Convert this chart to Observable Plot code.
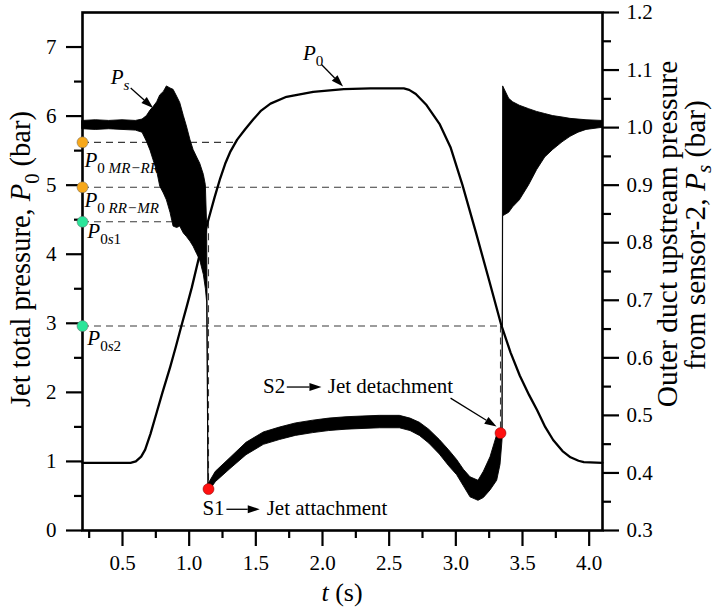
<!DOCTYPE html>
<html>
<head>
<meta charset="utf-8">
<script src="https://cdn.jsdelivr.net/npm/d3@7"></script>
<script src="https://cdn.jsdelivr.net/npm/@observablehq/plot@0.6"></script>
<style>
  body { margin: 0; background: #fff; }
  #chart svg { display: block; }
</style>
</head>
<body>
<div id="chart"></div>
<script>
// ---------------- data ----------------
// Jet total pressure P0 (bar), left axis
const p0Time  = [0.20, 0.40, 0.56, 0.60, 0.64, 0.67, 0.71, 0.758, 0.80, 0.858, 0.90, 0.94, 0.98, 1.02, 1.083, 1.14, 1.19, 1.233, 1.27, 1.31, 1.36, 1.42, 1.48, 1.54, 1.61, 1.73, 1.93, 2.16, 2.36, 2.61, 2.65, 2.70, 2.78, 2.88, 2.96, 3.05, 3.15, 3.25, 3.34, 3.41, 3.48, 3.55, 3.61, 3.67, 3.73, 3.80, 3.86, 3.92, 3.96, 4.10];
const p0Value = [0.98, 0.98, 0.98, 1.00, 1.07, 1.17, 1.40, 1.72, 2.00, 2.37, 2.66, 2.95, 3.23, 3.52, 4.03, 4.47, 4.82, 5.10, 5.31, 5.49, 5.66, 5.81, 5.95, 6.08, 6.18, 6.28, 6.35, 6.39, 6.40, 6.40, 6.38, 6.32, 6.16, 5.88, 5.55, 5.00, 4.32, 3.62, 2.98, 2.58, 2.24, 1.96, 1.74, 1.50, 1.31, 1.15, 1.06, 1.01, 0.99, 0.98];

// Outer duct pressure Ps, noisy signal: upper / lower envelope, in left-axis units
const psTime = [0.20, 0.30, 0.40, 0.50, 0.60, 0.65, 0.683, 0.71, 0.733, 0.76, 0.783, 0.81, 0.833, 0.86, 0.883, 0.91, 0.933, 0.96, 0.983, 1.01, 1.033, 1.06, 1.083, 1.11, 1.125, 1.135, 1.145,
                1.20, 1.31, 1.43, 1.56, 1.68, 1.80, 1.93, 2.05, 2.18, 2.30, 2.43, 2.58, 2.66, 2.73, 2.80, 2.88, 2.95, 3.01, 3.06, 3.11, 3.17, 3.21, 3.26, 3.31, 3.335, 3.35, 3.355,
                3.40, 3.43, 3.48, 3.55, 3.61, 3.67, 3.73, 3.80, 3.86, 3.92, 3.98, 4.10];
const psHigh = [5.93, 5.94, 5.93, 5.94, 5.93, 5.95, 6.00, 6.08, 6.13, 6.20, 6.30, 6.35, 6.43, 6.40, 6.38, 6.28, 6.19, 6.00, 5.85, 5.65, 5.51, 5.40, 5.31, 5.15, 5.00, 4.40, 0.67,
                0.85, 1.05, 1.27, 1.42, 1.49, 1.55, 1.59, 1.62, 1.64, 1.65, 1.66, 1.66, 1.62, 1.56, 1.46, 1.31, 1.16, 1.02, 0.88, 0.77, 0.72, 0.85, 1.06, 1.38, 1.45, 1.47, 6.43,
                6.25, 6.20, 6.15, 6.10, 6.06, 6.03, 6.00, 5.98, 5.96, 5.95, 5.94, 5.93];
const psLow  = [5.81, 5.80, 5.81, 5.80, 5.79, 5.76, 5.63, 5.50, 5.36, 5.20, 4.98, 4.88, 4.78, 4.60, 4.40, 4.38, 4.40, 4.30, 4.25, 4.18, 4.11, 4.00, 3.91, 3.70, 3.50, 3.30, 0.55,
                0.70, 0.89, 1.09, 1.24, 1.31, 1.37, 1.41, 1.44, 1.46, 1.47, 1.48, 1.48, 1.44, 1.37, 1.26, 1.10, 0.93, 0.80, 0.64, 0.48, 0.43, 0.47, 0.58, 0.72, 0.95, 1.30, 4.55,
                4.60, 4.68, 4.78, 5.00, 5.22, 5.40, 5.51, 5.62, 5.70, 5.76, 5.80, 5.83];

// characteristic P0 levels marked on the left axis
const levelName    = ["P0 MR-RR", "P0 RR-MR", "P0s1", "P0s2"];
const levelValue   = [5.62, 4.97, 4.47, 2.96];
const levelEndTime = [1.345, 3.055, 1.145, 3.335];
const levelColor   = ["#F7A81B", "#F7A81B", "#2AE59A", "#2AE59A"];

// events S1 (jet attachment) and S2 (jet detachment)
const eventName  = ["S1", "S2"];
const eventTime  = [1.145, 3.335];
const eventPs    = [0.60, 1.41];   // in left-axis units
const eventLevel = [4.47, 2.96];

// axis ticks
const xMajorTicks = [0.5, 1.0, 1.5, 2.0, 2.5, 3.0, 3.5, 4.0];
const xMinorTicks = [0.25, 0.75, 1.25, 1.75, 2.25, 2.75, 3.25, 3.75];
const yMajorTicks = [0, 1, 2, 3, 4, 5, 6, 7];
const yMinorTicks = [0.5, 1.5, 2.5, 3.5, 4.5, 5.5, 6.5];
const rightMajorTicks = [0.3, 0.4, 0.5, 0.6, 0.7, 0.8, 0.9, 1.0, 1.1, 1.2];
const rightMinorTicks = [0.35, 0.45, 0.55, 0.65, 0.75, 0.85, 0.95, 1.05, 1.15];

// right axis (Ps, bar) = 0.3 + 0.12 * left axis (P0, bar)
const rightToLeft = r => (r - 0.3) / 0.12;
const leftToRight = l => 0.3 + 0.12 * l;

// ---------------- tables ----------------
const p0Rows = p0Time.map((t, i) => ({t, p: p0Value[i]}));
const psRows = psTime.map((t, i) => ({t, hi: psHigh[i], lo: psLow[i]}));
const levelRows = levelName.map((n, i) => ({n, v: levelValue[i], end: levelEndTime[i], c: levelColor[i]}));
const eventRows = eventName.map((n, i) => ({n, t: eventTime[i], ps: eventPs[i], lev: eventLevel[i]}));

const FONT = "'Liberation Serif', 'Times New Roman', serif";

const chart = Plot.plot({
  width: 717,
  height: 608,
  marginLeft: 82,
  marginRight: 115,
  marginTop: 12,
  marginBottom: 78,
  style: {fontFamily: FONT, fontSize: "21px", background: "white", color: "black", overflow: "visible"},
  x: {domain: [0.2, 4.1], label: null},
  y: {domain: [0, 7.5], label: null},
  color: {type: "identity"},
  marks: [
    // dashed guide lines
    Plot.ruleY(levelRows, {y: "v", x1: () => 0.2, x2: "end", stroke: "#3a3a3a", strokeWidth: 1.1, strokeDasharray: "7,5"}),
    Plot.ruleX(eventRows, {x: "t", y1: "lev", y2: "ps", stroke: "#3a3a3a", strokeWidth: 1.1, strokeDasharray: "7,5"}),
    // Ps noisy signal
    Plot.areaY(psRows, {x: "t", y1: "lo", y2: "hi", fill: "black", stroke: "black", strokeWidth: 0.9}),
    // P0
    Plot.line(p0Rows, {x: "t", y: "p", stroke: "black", strokeWidth: 2.3}),
    // frame
    Plot.frame({stroke: "black", strokeWidth: 2.6}),
    // axes
    Plot.axisX(xMajorTicks, {anchor: "bottom", tickSize: 16, tickPadding: 9, strokeWidth: 2.2, tickFormat: d => d.toFixed(1)}),
    Plot.axisX(xMinorTicks, {anchor: "bottom", tickSize: 8, strokeWidth: 2.2, tickFormat: () => ""}),
    Plot.axisY(yMajorTicks, {anchor: "left", tickSize: 16, tickPadding: 10, strokeWidth: 2.2, tickFormat: d => String(d)}),
    Plot.axisY(yMinorTicks, {anchor: "left", tickSize: 8, strokeWidth: 2.2, tickFormat: () => ""}),
    Plot.axisY(rightMajorTicks.map(rightToLeft), {anchor: "right", tickSize: 16, tickPadding: 8, strokeWidth: 2.2, tickFormat: d => leftToRight(d).toFixed(1)}),
    Plot.axisY(rightMinorTicks.map(rightToLeft), {anchor: "right", tickSize: 8, strokeWidth: 2.2, tickFormat: () => ""}),
    // level markers on the axis
    Plot.dot(levelRows, {x: () => 0.2, y: "v", r: 5.5, fill: "c", stroke: "#666", strokeWidth: 0.5}),
    // S1 / S2 markers
    Plot.dot(eventRows, {x: "t", y: "ps", r: 5.5, fill: "#FF1010", stroke: "#7a0000", strokeWidth: 0.5})
  ]
});

document.getElementById("chart").appendChild(chart);

// ---------------- annotations with italics / subscripts ----------------
function scaleFn(name) {
  const s = chart.scale(name);
  if (s && typeof s.apply === "function") return v => s.apply(v);
  return d3.scaleLinear(s.domain, s.range);
}
const X = scaleFn("x"), Y = scaleFn("y");
const svg = d3.select(chart);
const ann = svg.append("g").attr("font-family", FONT).attr("fill", "black").attr("text-anchor", "start");

function rich(g, parts, size, drop = 0.3) {
  const text = g.append("text").attr("font-size", size);
  let sub = false;
  parts.forEach(p => {
    const ts = text.append("tspan").text(p.t);
    if (p.i) ts.attr("font-style", "italic");
    if (p.s && !sub) { ts.attr("dy", drop * size); sub = true; }
    else if (!p.s && sub) { ts.attr("dy", -drop * size); sub = false; }
    if (p.s) ts.attr("font-size", 0.72 * size);
  });
  return text;
}
function label(t, v, parts, size) {
  const g = ann.append("g").attr("transform", `translate(${X(t)},${Y(v)})`);
  return rich(g, parts, size);
}
function arrow(t1, v1, t2, v2) {
  const x1 = X(t1), y1 = Y(v1), x2 = X(t2), y2 = Y(v2);
  const a = Math.atan2(y2 - y1, x2 - x1), L = 12, w = 4;
  const bx = x2 - L * Math.cos(a), by = y2 - L * Math.sin(a);
  ann.append("line").attr("x1", x1).attr("y1", y1).attr("x2", bx).attr("y2", by)
    .attr("stroke", "black").attr("stroke-width", 1.3);
  ann.append("polygon").attr("points", [
    [x2, y2],
    [bx + w * Math.sin(a), by - w * Math.cos(a)],
    [bx - w * Math.sin(a), by + w * Math.cos(a)]
  ].map(p => p.join(",")).join(" ")).attr("fill", "black");
}

// curve labels
label(0.415, 6.46, [{t: "P", i: true}, {t: "s", i: true, s: true}], 21);
arrow(0.565, 6.40, 0.733, 6.11);
label(1.857, 6.81, [{t: "P", i: true}, {t: "0", s: true}], 21);
arrow(1.996, 6.74, 2.158, 6.42);

// level labels
label(0.218, 5.26, [{t: "P", i: true}, {t: "0 ", s: true}, {t: "MR\u2212RR", i: true, s: true}], 21);
label(0.218, 4.68, [{t: "P", i: true}, {t: "0 ", s: true}, {t: "RR\u2212MR", i: true, s: true}], 21);
label(0.24, 4.23, [{t: "P", i: true}, {t: "0", s: true}, {t: "s", i: true, s: true}, {t: "1", s: true}], 21);
label(0.24, 2.68, [{t: "P", i: true}, {t: "0", s: true}, {t: "s", i: true, s: true}, {t: "2", s: true}], 21);

// events
label(1.103, 0.21, [{t: "S1"}], 21);
arrow(1.283, 0.30, 1.533, 0.30);
label(1.585, 0.21, [{t: "Jet attachment"}], 21);
label(1.558, 1.985, [{t: "S2"}], 21);
arrow(1.736, 2.07, 1.996, 2.07);
label(2.043, 1.985, [{t: "Jet detachment"}], 21);
arrow(2.964, 1.909, 3.309, 1.497);

// axis titles
const titles = svg.append("g").attr("font-family", FONT).attr("fill", "black");
{
  const g = titles.append("g").attr("transform", "translate(30,259) rotate(-90)");
  rich(g, [{t: "Jet total pressure, "}, {t: "P", i: true}, {t: "0", s: true}, {t: " (bar)"}], 28.5).attr("text-anchor", "middle");
}
{
  const g = titles.append("g").attr("transform", "translate(677,234) rotate(-90)");
  rich(g, [{t: "Outer duct upstream pressure"}], 29.5).attr("text-anchor", "middle");
}
{
  const g = titles.append("g").attr("transform", "translate(705,235) rotate(-90)");
  rich(g, [{t: "from sensor-2, "}, {t: "P", i: true}, {t: "s", i: true, s: true}, {t: " (bar)"}], 29.5, 0.2).attr("text-anchor", "middle");
}
{
  const g = titles.append("g").attr("transform", `translate(${(X(0.2) + X(4.1)) / 2},601)`);
  rich(g, [{t: "t", i: true}, {t: " (s)"}], 26).attr("text-anchor", "middle");
}
</script>
</body>
</html>
